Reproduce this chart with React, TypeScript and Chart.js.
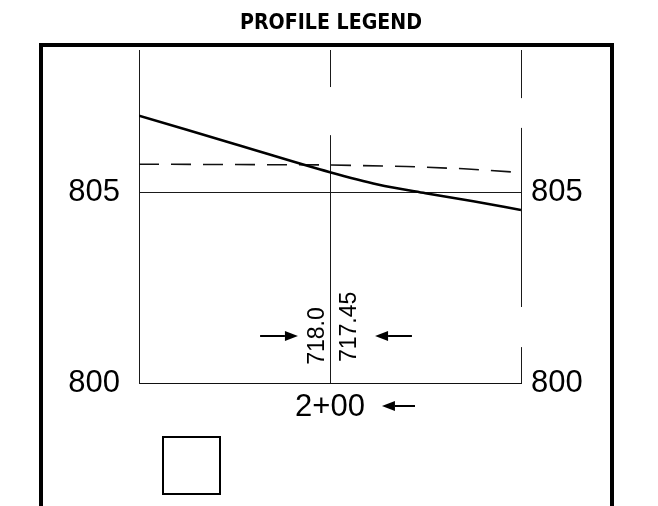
import { useEffect, useRef } from 'react';
import Chart from 'chart.js/auto';

const titleText = 'PROFILE LEGEND';
const stationMin = 100;
const stationMax = 300;
const elevMin = 800;
const elevMax = 808.72;
const elevTicks = [800, 805];
const stationTicks = [200];
const stationLabel = (v: number) => `${Math.floor(v / 100)}+${String(v % 100).padStart(2, '0')}`;

// proposed grade (solid)
const gradeStations = [100, 150, 200, 225, 250, 275, 300];
const gradeElev = [807.0, 806.26, 805.52, 805.2, 804.97, 804.76, 804.53];
// existing ground (dashed)
const groundStations = [100, 200, 240, 270, 300];
const groundElev = [805.73, 805.71, 805.67, 805.61, 805.51];

// vertical station lines, drawn spans in elevation
const verticalStations = [100, 200, 300];
const verticalSpans = [
  [[800, 808.72]],
  [[800, 806.49], [807.75, 808.72]],
  [[800, 800.94], [801.99, 806.68], [807.46, 808.72]],
];

// rotated elevation notes
const noteTexts = ['718.0', '717.45'];
const noteStations = [193.7, 210.5];
const noteElevs = [801.23, 801.47];

// arrows: from station -> to station at elevation
const arrowFrom = [163.4, 242.9, 244.5];
const arrowTo = [183.2, 223.6, 227.2];
const arrowElev = [801.23, 801.23, 799.4];

const decorPlugin = {
  id: 'profileDecor',
  beforeDatasetsDraw(chart: any) {
    const { ctx } = chart;
    const xs = chart.scales.x;
    const ys = chart.scales.y;
    ctx.save();
    ctx.strokeStyle = '#1a1a1a';
    ctx.lineWidth = 1;
    verticalStations.forEach((st, i) => {
      const x = Math.round(xs.getPixelForValue(st)) + 0.5;
      verticalSpans[i].forEach(([a, b]) => {
        ctx.beginPath();
        ctx.moveTo(x, ys.getPixelForValue(a));
        ctx.lineTo(x, ys.getPixelForValue(b));
        ctx.stroke();
      });
    });
    ctx.restore();
  },
  afterDraw(chart: any) {
    const { ctx } = chart;
    const xs = chart.scales.x;
    const ys = chart.scales.y;
    ctx.save();
    // title, condensed to the drawing's lettering width
    ctx.fillStyle = '#000';
    ctx.font = 'bold 22px "DejaVu Sans Condensed", "DejaVu Sans", sans-serif';
    ctx.textAlign = 'center';
    ctx.textBaseline = 'alphabetic';
    const w = ctx.measureText(titleText).width;
    const sx = 182 / w;
    ctx.save();
    ctx.translate(331, 29);
    ctx.scale(sx, 1);
    ctx.fillText(titleText, 0, 0);
    ctx.restore();
    // outer frame
    ctx.strokeStyle = '#000';
    ctx.lineWidth = 4;
    ctx.lineJoin = 'miter';
    ctx.beginPath();
    ctx.moveTo(41, 530);
    ctx.lineTo(41, 45);
    ctx.lineTo(612, 45);
    ctx.lineTo(612, 530);
    ctx.stroke();
    // small square
    ctx.lineWidth = 2;
    ctx.strokeRect(163, 437, 57, 57);
    // rotated notes
    ctx.font = '23px "Liberation Sans", Arial, sans-serif';
    ctx.textAlign = 'center';
    ctx.textBaseline = 'middle';
    noteTexts.forEach((t, i) => {
      ctx.save();
      ctx.translate(xs.getPixelForValue(noteStations[i]), ys.getPixelForValue(noteElevs[i]));
      ctx.rotate(-Math.PI / 2);
      ctx.fillText(t, 0, 0);
      ctx.restore();
    });
    // arrows
    ctx.lineWidth = 2;
    arrowFrom.forEach((f, i) => {
      const x1 = xs.getPixelForValue(f);
      const x2 = xs.getPixelForValue(arrowTo[i]);
      const y = Math.round(ys.getPixelForValue(arrowElev[i]));
      const dir = Math.sign(x2 - x1);
      const head = 13;
      ctx.beginPath();
      ctx.moveTo(x1, y);
      ctx.lineTo(x2 - dir * head, y);
      ctx.stroke();
      ctx.beginPath();
      ctx.moveTo(x2, y);
      ctx.lineTo(x2 - dir * head, y - 5);
      ctx.lineTo(x2 - dir * head, y + 5);
      ctx.closePath();
      ctx.fill();
    });
    ctx.restore();
  },
};

export default function App() {
  const ref = useRef<HTMLCanvasElement | null>(null);
  useEffect(() => {
    if (!ref.current) return;
    const labelFont = { family: '"Liberation Sans", Arial, sans-serif', size: 31 };
    const chart = new Chart(ref.current, {
      type: 'line',
      data: {
        datasets: [
          {
            label: 'Proposed',
            data: gradeStations.map((s, i) => ({ x: s, y: gradeElev[i] })),
            borderColor: '#000',
            borderWidth: 2.5,
            pointRadius: 0,
            cubicInterpolationMode: 'monotone',
            fill: false,
          },
          {
            label: 'Existing',
            data: groundStations.map((s, i) => ({ x: s, y: groundElev[i] })),
            borderColor: '#111',
            borderWidth: 1.6,
            borderDash: [20, 12],
            pointRadius: 0,
            fill: false,
          },
        ],
      },
      options: {
        responsive: false,
        animation: false,
        layout: { padding: { top: 50, left: 0, right: 0, bottom: 0 } },
        plugins: {
          legend: { display: false },
          tooltip: { enabled: false },
          title: { display: false },
        },
        scales: {
          x: {
            type: 'linear',
            min: stationMin,
            max: stationMax,
            afterBuildTicks: (s: any) => { s.ticks = stationTicks.map((v) => ({ value: v })); },
            afterFit: (s: any) => { s.height = 123; },
            ticks: { callback: (v: any) => stationLabel(Number(v)), color: '#000', font: labelFont, padding: 6, maxRotation: 0 },
            grid: { display: false, drawTicks: false },
            border: { display: true, color: '#111', width: 1 },
          },
          y: {
            type: 'linear',
            position: 'left',
            min: elevMin,
            max: elevMax,
            afterBuildTicks: (s: any) => { s.ticks = elevTicks.map((v) => ({ value: v })); },
            afterFit: (s: any) => { s.width = 139; },
            ticks: { color: '#000', font: labelFont, padding: 19 },
            grid: { display: true, color: '#1a1a1a', lineWidth: 1, drawTicks: false },
            border: { display: true, color: '#1a1a1a', width: 1 },
          },
          y2: {
            type: 'linear',
            position: 'right',
            min: elevMin,
            max: elevMax,
            afterBuildTicks: (s: any) => { s.ticks = elevTicks.map((v) => ({ value: v })); },
            afterFit: (s: any) => { s.width = 137; },
            ticks: { color: '#000', font: labelFont, padding: 10 },
            grid: { display: false, drawTicks: false },
            border: { display: false },
          },
        },
      },
      plugins: [decorPlugin],
    } as any);
    return () => chart.destroy();
  }, []);
  return (
    <div style={{ position: 'absolute', left: 0, top: 0, width: 658, height: 506, background: '#fff' }}>
      <canvas ref={ref} width={658} height={506} style={{ display: 'block' }} />
    </div>
  );
}
